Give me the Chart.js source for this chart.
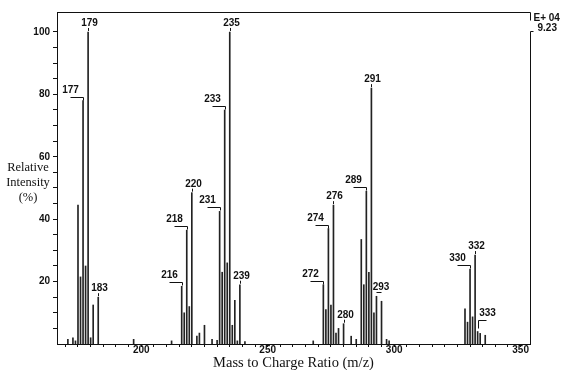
<!DOCTYPE html>
<html><head><meta charset="utf-8">
<script src="https://cdn.jsdelivr.net/npm/chart.js@4.4.0/dist/chart.umd.min.js"></script>
<style>html,body{margin:0;padding:0;background:#fff;}#wrap{width:563px;height:370px;position:relative;}</style>
</head><body><div id="wrap"><canvas id="c" width="563" height="370"></canvas></div>
<script>
// ---- data ----
const masses = [171,173,174,175,176,177,178,179,180,181,183,197,212,
  216,217,218,219,220,222,223,225,228,230,
  231,232,233,234,235,236,237,238,239,241,
  268,272,273,274,275,276,277,278,280,
  283,285,287,288,289,290,291,292,293,295,297,298,
  328,329,330,331,332,333,334,336];
const intensities = [1.5,2,1,44.5,21.5,78,25,100,2,12.5,15,1.5,1,
  18.5,10,36.5,12,48.5,2.5,3.5,6,1.5,1.2,
  42.5,23,75,26,100,6,14,1,19,0.8,
  1,19,11,37,12.5,44.5,3.5,5,6.5,
  2.5,1.5,33.5,19,49,23,82,10,15.3,13.7,1.5,1,
  11.3,7,24,8.7,28.5,4,3.4,2.8];
const labeledMasses = [179,177,183,216,218,220,231,233,235,239,272,274,276,280,289,291,293,330,332,333];
const labelKinds = ['top','left','top','left','left','top','left','left','top','top','left','left','top','top','left','top','topright','left','top','right'];
const xTickLabels = [200,250,300,350];
const yTickLabels = [20,40,60,80,100];
const yTitleLines = ['Relative','Intensity','(%)'];
const xTitle = 'Mass to Charge Ratio (m/z)';
const scaleNote = ['E+ 04','9.23'];

const LABEL_FONT = 'bold 10px "Liberation Sans", Arial, sans-serif';
const SERIF = '"Liberation Serif", "Times New Roman", serif';

function seg(ctx,x1,y1,x2,y2){ctx.beginPath();ctx.moveTo(x1,y1);ctx.lineTo(x2,y2);ctx.stroke();}

const decorPlugin = {
  id:'decor',
  afterDatasetsDraw(chart){
    const {ctx, chartArea:a, scales:{x,y}} = chart;
    ctx.save();
    ctx.strokeStyle='#111'; ctx.lineWidth=1;
    const L=Math.round(a.left)+0.5, R=Math.round(a.right)+0.5, T=Math.round(a.top)+0.5, B=Math.round(a.bottom)+0.5;
    // top frame with break on the right
    seg(ctx,L,T,R,T); seg(ctx,R,T,R,T+8);
    seg(ctx,R,T+19,R,B); seg(ctx,R,T+19,R+3,T+19);
    // scale note
    ctx.fillStyle='#111'; ctx.font=LABEL_FONT; ctx.textAlign='left'; ctx.textBaseline='alphabetic';
    ctx.fillText(scaleNote[0], R+3, T+8);
    ctx.fillText(scaleNote[1], R+7, T+18);
    // y title (horizontal, three lines)
    ctx.font='12.5px '+SERIF; ctx.textAlign='center';
    yTitleLines.forEach((s,i)=>ctx.fillText(s, 28, 171+i*15));
    // peak labels
    ctx.font=LABEL_FONT;
    labeledMasses.forEach((m,i)=>{
      const v = intensities[masses.indexOf(m)];
      const px = Math.round(x.getPixelForValue(m))+0.5;
      const py = y.getPixelForValue(v);
      const k = labelKinds[i], t=String(m);
      ctx.textAlign='center';
      if(k==='top'){
        ctx.fillText(t, px+1, py-6);
        seg(ctx,px,py-4,px,py-1);
      } else if(k==='left'){
        const by=Math.round(py-4)+0.5;
        seg(ctx,px-13,by,px,by); seg(ctx,px,by,px,by+3);
        ctx.fillText(t, px-13, by-5);
      } else if(k==='right'){
        const by=Math.round(py-12)+0.5;
        seg(ctx,px,by,px+8,by); seg(ctx,px,by,px,py-3);
        ctx.fillText(t, px+9, by-5);
      } else if(k==='topright'){
        const by=Math.round(py-4)+0.5;
        seg(ctx,px,by,px+5,by);
        ctx.fillText(t, px+4.5, by-3);
      }
    });
    ctx.restore();
  }
};

new Chart(document.getElementById('c'), {
  type:'bar',
  data:{datasets:[{
    data: masses.map((m,i)=>({x:m,y:intensities[i]})),
    backgroundColor:'#222', borderWidth:0, barThickness:1
  }]},
  options:{
    responsive:false, animation:false, devicePixelRatio:1,
    layout:{padding:{left:0,right:33,top:12,bottom:0}},
    plugins:{legend:{display:false},tooltip:{enabled:false}},
    scales:{
      x:{type:'linear', min:166.7, max:353.7, offset:false,
        afterFit(s){s.height=26;},
        afterBuildTicks(s){const t=[];for(let v=170;v<=350;v+=5)t.push({value:v});s.ticks=t;},
        grid:{drawOnChartArea:false, offset:false, tickLength:3, color:'#111'},
        border:{display:true,color:'#111',width:1},
        ticks:{autoSkip:false, maxRotation:0, padding:-3, color:'#111',
          font:{family:'"Liberation Sans", Arial, sans-serif', size:10, weight:'bold'},
          callback:(v)=>xTickLabels.includes(v)?String(v):''},
        title:{display:true, text:xTitle, color:'#111', padding:{top:0,bottom:-1.5},
          font:{family:SERIF, size:14.5}}
      },
      y:{type:'linear', min:0, max:106.4,
        afterFit(s){s.width=57;},
        afterBuildTicks(s){const t=[];for(let v=5;v<=100;v+=5)t.push({value:v});s.ticks=t;},
        grid:{drawOnChartArea:false, tickLength:4, color:'#111'},
        border:{display:true,color:'#111',width:1},
        ticks:{autoSkip:false, padding:3, color:'#111',
          font:{family:'"Liberation Sans", Arial, sans-serif', size:10, weight:'bold'},
          callback:(v)=>yTickLabels.includes(v)?String(v):''}
      }
    }
  },
  plugins:[decorPlugin]
});
</script></body></html>
